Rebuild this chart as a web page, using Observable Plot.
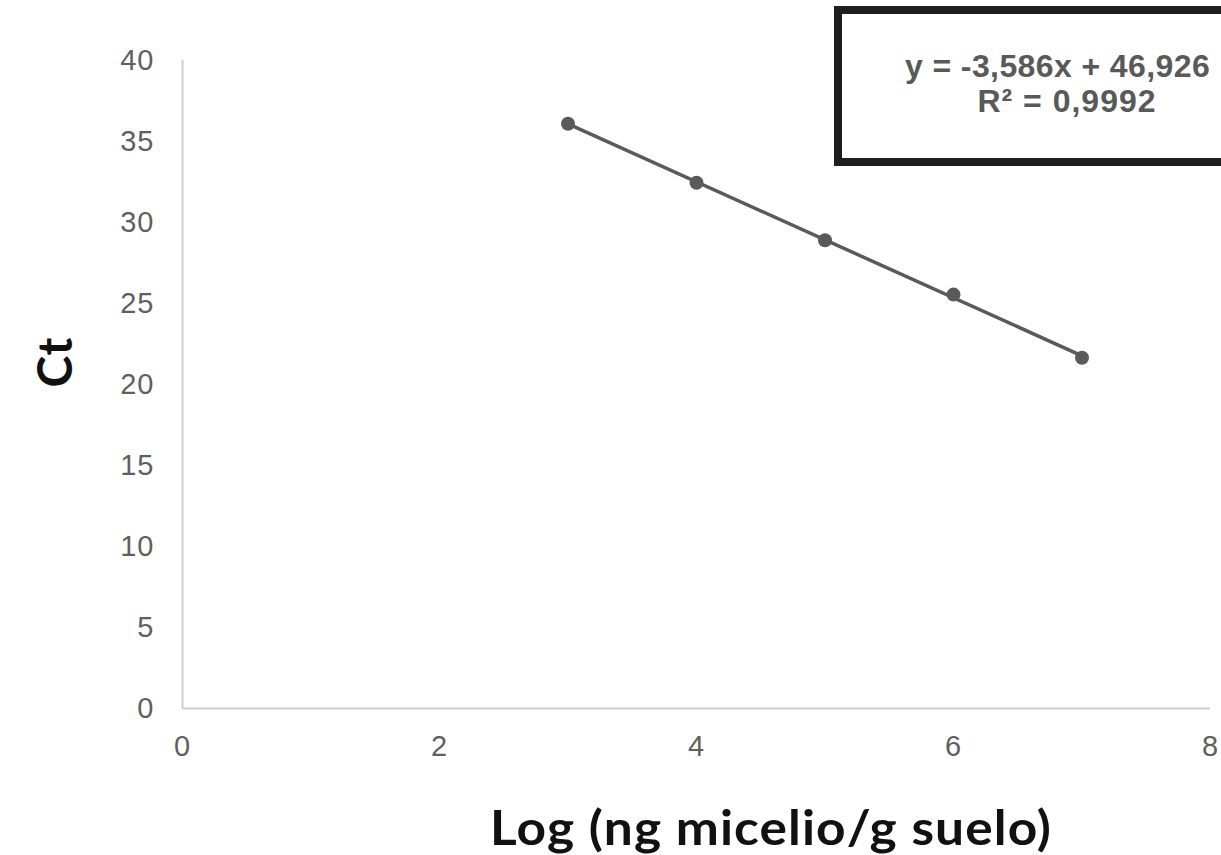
<!DOCTYPE html>
<html>
<head>
<meta charset="utf-8">
<script src="https://cdn.jsdelivr.net/npm/d3@7"></script>
<script src="https://cdn.jsdelivr.net/npm/@observablehq/plot@0.6"></script>
<style>
  html, body { margin: 0; padding: 0; background: #fff; overflow: hidden; }
  #wrap { position: relative; width: 1221px; height: 855px; overflow: hidden; background: #fff; }
  #box {
    position: absolute; left: 834px; top: 6px; width: 466px; height: 160px;
    box-sizing: border-box; border: 8px solid #1e1e1e; background: #fff;
  }
  .eq {
    position: absolute; color: #595959; white-space: nowrap;
    font-family: "Liberation Sans", Arial, sans-serif; font-weight: bold;
    font-size: 32px; line-height: 32px;
  }
  #eq1 { left: 905px; top: 50px; letter-spacing: 0.4px; }
  #eq2 { left: 867px; width: 400px; text-align: center; top: 85px; letter-spacing: 1px; }
</style>
</head>
<body>
<div id="wrap"></div>
<script>
const logMicelio = [3, 4, 5, 6, 7];
const ctValues = [36.1, 32.45, 28.9, 25.55, 21.65];
const xTicks = [0, 2, 4, 6, 8];
const yTicks = [0, 5, 10, 15, 20, 25, 30, 35, 40];
const equationText = "y = -3,586x + 46,926";
const r2Text = "R² = 0,9992";
const xLabelText = "Log (ng micelio/g suelo)";
const yLabelText = "Ct";

const data = logMicelio.map((x, i) => ({x, y: ctValues[i]}));

const chart = Plot.plot({
  width: 1221,
  height: 855,
  marginLeft: 182,
  marginRight: 11,
  marginTop: 60,
  marginBottom: 147,
  style: {fontFamily: "'Liberation Sans', Arial, sans-serif", fontSize: "29px", color: "#5f5f5f", background: "#fff", letterSpacing: "1px"},
  x: {domain: [0, 8], ticks: xTicks, tickSize: 0, tickPadding: 27, label: null},
  y: {domain: [0, 40], ticks: yTicks, tickSize: 0, tickPadding: 28, label: null},
  marks: [
    Plot.ruleX([0], {stroke: "#cfcfcf", strokeWidth: 2}),
    Plot.ruleY([0], {stroke: "#cfcfcf", strokeWidth: 2}),
    Plot.linearRegressionY(data, {x: "x", y: "y", stroke: "#5a5a5a", strokeWidth: 3.5, ci: 0}),
    Plot.dot(data, {x: "x", y: "y", r: 7, fill: "#5a5a5a", stroke: "none"})
  ]
});

const svg = d3.select(chart);
svg.append("text")
  .attr("x", 771).attr("y", 845)
  .attr("text-anchor", "middle")
  .attr("font-family", "Lato, 'Open Sans', sans-serif")
  .attr("font-weight", "bold")
  .attr("font-size", 47)
  .attr("fill", "#111")
  .attr("textLength", 562)
  .attr("lengthAdjust", "spacingAndGlyphs")
  .text(xLabelText);
svg.append("text")
  .attr("transform", "translate(72,362) rotate(-90)")
  .attr("text-anchor", "middle")
  .attr("font-family", "Lato, 'Open Sans', sans-serif")
  .attr("font-weight", "bold")
  .attr("font-size", 48)
  .attr("fill", "#111")
  .text(yLabelText);

const wrap = document.getElementById("wrap");
wrap.appendChild(chart);
const box = document.createElement("div");
box.id = "box";
wrap.appendChild(box);
const eq1 = document.createElement("div");
eq1.id = "eq1"; eq1.className = "eq"; eq1.textContent = equationText;
wrap.appendChild(eq1);
const eq2 = document.createElement("div");
eq2.id = "eq2"; eq2.className = "eq"; eq2.textContent = r2Text;
wrap.appendChild(eq2);
</script>
</body>
</html>
